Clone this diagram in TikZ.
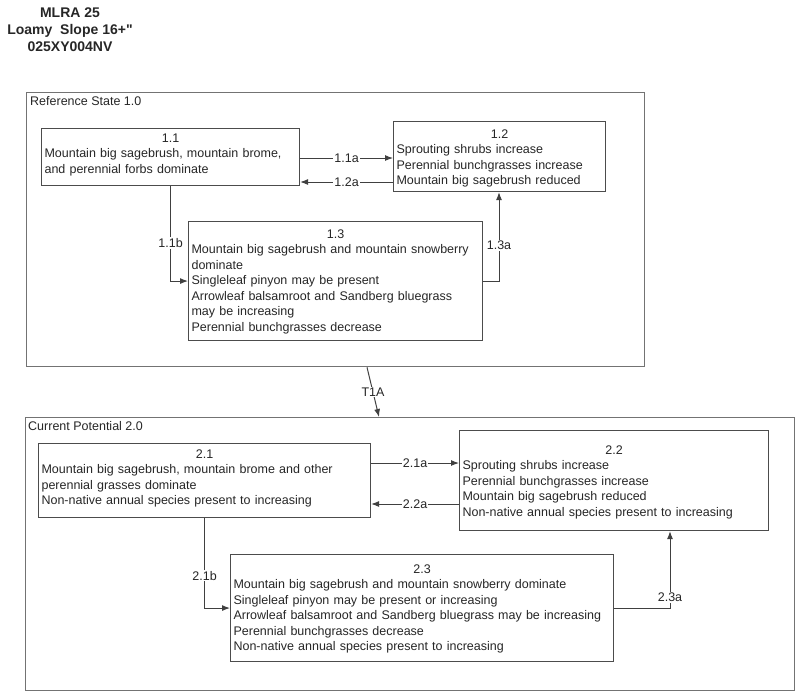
\documentclass[tikz,border=0pt]{standalone}
\usepackage{fontspec}
\setmainfont{Liberation Sans}
\usetikzlibrary{arrows.meta}
\hyphenpenalty=10000

\tikzset{
  statebox/.style={draw=black!70, line width=1.1pt, anchor=north west, align=left,
    inner xsep=3pt, inner ysep=0pt, text=black!85,
    font=\fontsize{12.5}{15.5}\selectfont},
  statepart/.style={draw=black!55, line width=1.3pt, anchor=north west, inner sep=0pt},
  parttitle/.style={anchor=north west, inner sep=0pt, text=black!85,
    font=\fontsize{12.5}{15.5}\selectfont},
  link/.style={draw=black!75, line width=1pt, -{Latex[length=8pt,width=6pt]}},
  tag/.style={fill=white, inner sep=1pt, text=black!85,
    font=\fontsize{12.5}{15.5}\selectfont},
}

\begin{document}
\begin{tikzpicture}[x=1pt, y=-1pt]
  \useasboundingbox (0,0) rectangle (800,691);

  % heading
  \node [align=center, inner sep=0pt, text=black!85, font=\bfseries\fontsize{14}{17}\selectfont]
    (head) at (70,30) {MLRA 25\\Loamy\ \ Slope 16+\XeTeXglyph\XeTeXcharglyph"22\relax\\025XY004NV};

  % reference state
  \node [statepart, minimum width=618pt, minimum height=274pt] (ref) at (26,92) {};
  \node [parttitle] (reftitle) at (30,96) {Reference State 1.0};

  \node [statebox, text width=252pt, text height=13.5pt, text depth=43.5pt] (s11) at (41,128)
    {\makebox[\linewidth]{1.1}\\
     Mountain big sagebrush, mountain brome,\\
     and perennial forbs dominate};
  \node [statebox, text width=206pt, text height=16.5pt, text depth=53.5pt] (s12) at (393,121)
    {\makebox[\linewidth]{1.2}\\
     Sprouting shrubs increase\\
     Perennial bunchgrasses increase\\
     Mountain big sagebrush reduced};
  \node [statebox, text width=288pt, text height=16.5pt, text depth=102.5pt] (s13) at (188,221)
    {\makebox[\linewidth]{1.3}\\
     Mountain big sagebrush and mountain snowberry\\
     dominate\\
     Singleleaf pinyon may be present\\
     Arrowleaf balsamroot and Sandberg bluegrass\\
     may be increasing\\
     Perennial bunchgrasses decrease};

  \draw [link] (s11.east |- 0,158) -- node [tag] {1.1a} (s12.west |- 0,158);
  \draw [link] (s12.west |- 0,182) -- node [tag] {1.2a} (s11.east |- 0,182);
  \draw [link] (s11.south) |- node [tag, pos=.3] {1.1b} (s13.west);
  \draw [link] (s13.east) -| node [tag, pos=.7] {1.3a} (499,0 |- s12.south);

  % current potential
  \node [statepart, minimum width=769pt, minimum height=273pt] (cur) at (25,417) {};
  \node [parttitle] (curtitle) at (28,421) {Current Potential 2.0};

  \draw [link] (ref.south -| 367,0) -- node [tag] {T1A} (cur.north -| 379,0);

  \node [statebox, text width=326pt, text height=14.5pt, text depth=59.5pt] (s21) at (38,443)
    {\makebox[\linewidth]{2.1}\\
     Mountain big sagebrush, mountain brome and other\\
     perennial grasses dominate\\
     Non-native annual species present to increasing};
  \node [statebox, text width=303pt, text height=23.5pt, text depth=76.5pt] (s22) at (459,430)
    {\makebox[\linewidth]{2.2}\\
     Sprouting shrubs increase\\
     Perennial bunchgrasses increase\\
     Mountain big sagebrush reduced\\
     Non-native annual species present to increasing};
  \node [statebox, text width=377pt, text height=18.5pt, text depth=88.5pt] (s23) at (230,554)
    {\makebox[\linewidth]{2.3}\\
     Mountain big sagebrush and mountain snowberry dominate\\
     Singleleaf pinyon may be present or increasing\\
     Arrowleaf balsamroot and Sandberg bluegrass may be increasing\\
     Perennial bunchgrasses decrease\\
     Non-native annual species present to increasing};

  \draw [link] (s21.east |- 0,463) -- node [tag] {2.1a} (s22.west |- 0,463);
  \draw [link] (s22.west |- 0,504) -- node [tag] {2.2a} (s21.east |- 0,504);
  \draw [link] (s21.south) |- node [tag, pos=.32] {2.1b} (s23.west);
  \draw [link] (s23.east) -| node [tag, pos=.57] {2.3a} (670,0 |- s22.south);
\end{tikzpicture}
\end{document}
